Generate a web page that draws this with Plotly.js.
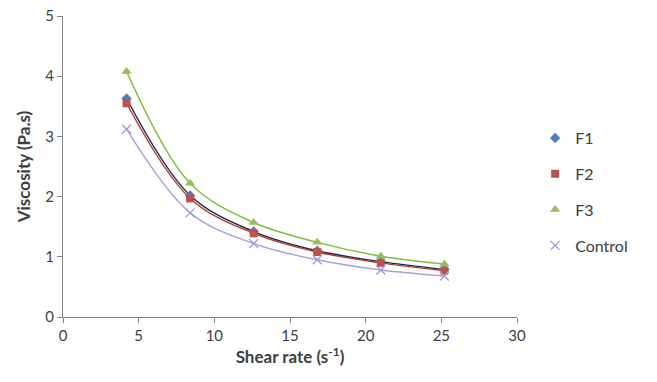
<!DOCTYPE html>
<html>
<head>
<meta charset="utf-8">
<script src="https://cdn.plot.ly/plotly-3.0.1.min.js"></script>
<style>html,body{margin:0;padding:0;background:#fff;}#chart{width:657px;height:382px;}</style>
</head>
<body>
<div id="chart"></div>
<script>
var shearRate = [4.2, 8.4, 12.6, 16.8, 21.0, 25.2];
var f1 = [3.63, 2.02, 1.42, 1.10, 0.92, 0.79];
var f2 = [3.55, 1.97, 1.39, 1.08, 0.90, 0.77];
var f3 = [4.08, 2.22, 1.57, 1.24, 1.01, 0.88];
var control = [3.12, 1.73, 1.22, 0.95, 0.78, 0.68];
var seriesNames = ["F1", "F2", "F3", "Control"];

var seriesData = [f1, f2, f3, control];
var markerStyles = [
  {symbol: "diamond", color: "#4F81BD", size: 8},
  {symbol: "square", color: "#C0504D", size: 8},
  {symbol: "triangle-up", color: "#9BBB59", size: 9},
  {symbol: "x-thin-open", color: "#9B9BD8", size: 9, line: {color: "#9B9BD8", width: 1.3}}
];
var lineColors = ["#1F2A44", "#B03A3A", "#7FBF3F", "#A9A0D8"];

var traces = [];
seriesData.forEach(function (ys, i) {
  traces.push({
    x: shearRate, y: ys, type: "scatter", mode: "lines",
    line: {shape: "spline", color: lineColors[i], width: 1.4},
    showlegend: false, hoverinfo: "skip"
  });
});
seriesData.forEach(function (ys, i) {
  traces.push({
    x: shearRate, y: ys, type: "scatter", mode: "markers",
    name: seriesNames[i], legendgroup: "g" + i,
    marker: markerStyles[i]
  });
});

var fontFam = "Lato, 'Liberation Sans', sans-serif";
var layout = {
  width: 657, height: 382,
  margin: {l: 63, r: 140, t: 16, b: 65},
  paper_bgcolor: "#fff", plot_bgcolor: "#fff",
  font: {family: fontFam, size: 14, color: "#404040"},
  xaxis: {
    range: [0, 30], dtick: 5, tick0: 0,
    showgrid: false, zeroline: false,
    showline: true, linecolor: "#868686", linewidth: 1,
    ticks: "outside", ticklen: 5, tickcolor: "#868686",
    tickfont: {size: 15, color: "#404040"},
    title: {text: "<b>Shear rate (s<sup>-1</sup>)</b>", font: {size: 17, color: "#404040"}, standoff: 6}
  },
  yaxis: {
    range: [0, 5], dtick: 1, tick0: 0,
    showgrid: false, zeroline: false,
    showline: true, linecolor: "#868686", linewidth: 1,
    ticks: "outside", ticklen: 5, tickcolor: "#868686",
    tickfont: {size: 15, color: "#404040"},
    title: {text: "<b>Viscosity (Pa.s)</b>", font: {size: 17, color: "#404040"}, standoff: 10}
  },
  legend: {
    x: 1.04, y: 0.415, xanchor: "left", yanchor: "middle",
    font: {size: 16, color: "#404040"},
    tracegroupgap: 12, bgcolor: "rgba(0,0,0,0)"
  },
  showlegend: true
};

Plotly.newPlot("chart", traces, layout, {displayModeBar: false, staticPlot: true});
</script>
</body>
</html>
